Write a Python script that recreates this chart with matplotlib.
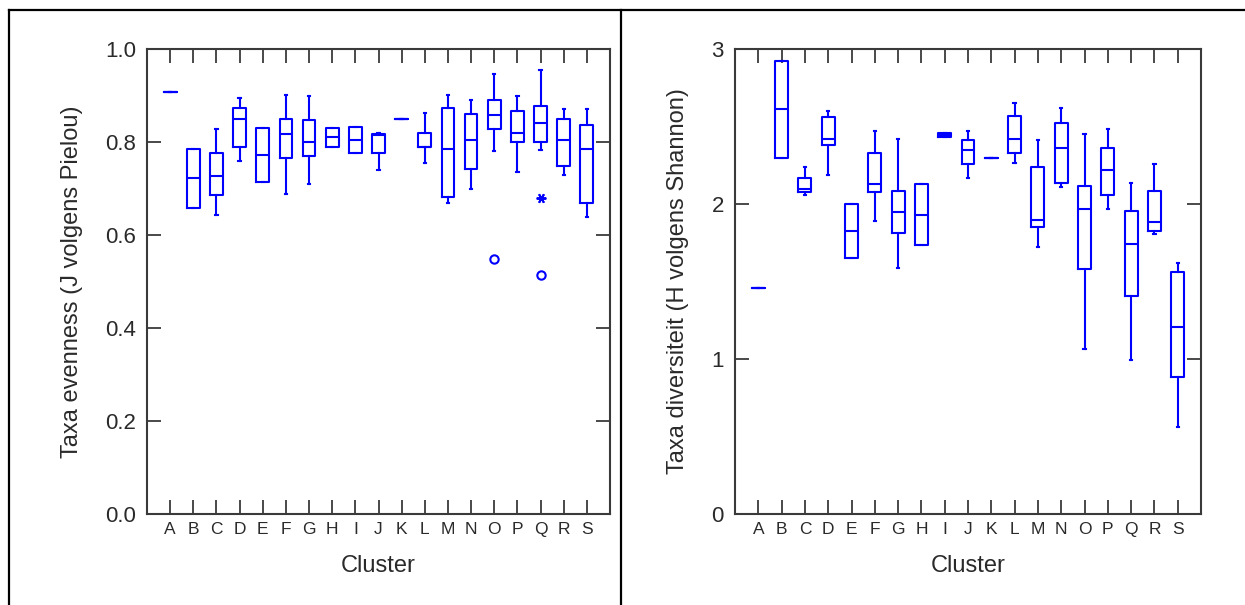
import matplotlib.pyplot as plt
from matplotlib.lines import Line2D

plt.rcParams['font.family'] = ['Liberation Sans', 'DejaVu Sans']

clusters = list('ABCDEFGHIJKLMNOPQRS')

# Pielou evenness per cluster: whisker low, Q1, median, Q3, whisker high
j_whislo = [0.908, 0.659, 0.642, 0.759, 0.715, 0.689, 0.709, 0.790, 0.776, 0.740,
            0.850, 0.755, 0.668, 0.699, 0.780, 0.735, 0.783, 0.729, 0.639]
j_q1 = [0.908, 0.659, 0.685, 0.789, 0.715, 0.766, 0.769, 0.790, 0.776, 0.776,
        0.850, 0.790, 0.682, 0.743, 0.827, 0.799, 0.800, 0.749, 0.668]
j_med = [0.908, 0.723, 0.726, 0.850, 0.773, 0.817, 0.799, 0.810, 0.804, 0.815,
         0.850, 0.790, 0.786, 0.804, 0.857, 0.820, 0.841, 0.804, 0.784]
j_q3 = [0.908, 0.786, 0.776, 0.874, 0.830, 0.850, 0.847, 0.830, 0.833, 0.817,
        0.850, 0.820, 0.874, 0.860, 0.890, 0.867, 0.877, 0.850, 0.837]
j_whishi = [0.908, 0.786, 0.827, 0.895, 0.830, 0.902, 0.898, 0.830, 0.833, 0.820,
            0.850, 0.862, 0.901, 0.890, 0.946, 0.898, 0.955, 0.871, 0.871]
j_outliers = {'O': [0.548], 'Q': [0.513]}
j_extremes = {'Q': [0.680]}

# Shannon diversity per cluster
h_whislo = [1.46, 2.30, 2.056, 2.187, 1.652, 1.892, 1.59, 1.733, 2.434, 2.17,
            2.30, 2.267, 1.723, 2.108, 1.067, 1.966, 0.994, 1.804, 0.561]
h_q1 = [1.46, 2.30, 2.075, 2.378, 1.652, 2.075, 1.815, 1.733, 2.434, 2.258,
        2.30, 2.327, 1.854, 2.138, 1.581, 2.056, 1.409, 1.824, 0.886]
h_med = [1.46, 2.61, 2.097, 2.419, 1.826, 2.127, 1.946, 1.927, 2.445, 2.35,
         2.30, 2.419, 1.895, 2.359, 1.966, 2.217, 1.744, 1.884, 1.209]
h_q3 = [1.46, 2.925, 2.17, 2.561, 1.998, 2.329, 2.086, 2.127, 2.46, 2.41,
        2.30, 2.57, 2.239, 2.523, 2.116, 2.359, 1.955, 2.086, 1.561]
h_whishi = [1.46, 2.925, 2.239, 2.60, 1.998, 2.473, 2.42, 2.127, 2.46, 2.473,
            2.30, 2.654, 2.41, 2.621, 2.45, 2.482, 2.138, 2.258, 1.621]

BLUE = '#0000ff'
FRAME = '#3a3a3a'
TEXT = '#2a2a2a'


def stats(lo, q1, med, q3, hi, outliers):
    out = []
    for i, c in enumerate(clusters):
        out.append(dict(label=c, whislo=lo[i], q1=q1[i], med=med[i], q3=q3[i],
                        whishi=hi[i], fliers=outliers.get(c, [])))
    return out


def draw(ax, st, ylim, yticks, yticklabels, ylabel):
    pos = list(range(1, len(clusters) + 1))
    line = dict(color=BLUE, linewidth=1.5)
    ax.bxp(st, positions=pos, widths=0.55, capwidths=0.1,
           boxprops=line, medianprops=line, whiskerprops=line, capprops=line,
           flierprops=dict(marker='o', markersize=6, markerfacecolor='none',
                           markeredgecolor=BLUE, markeredgewidth=1.5),
           manage_ticks=False)
    ax.set_xlim(0, 20)
    ax.set_ylim(*ylim)
    ax.set_xticks(pos)
    ax.set_xticklabels(clusters, fontsize=12.5, color=TEXT)
    ax.set_yticks(yticks)
    ax.set_yticklabels(yticklabels, fontsize=16, color=TEXT)
    ax.tick_params(axis='both', direction='in', length=10, width=1.3,
                   color=FRAME, top=True, right=True)
    ax.tick_params(axis='x', pad=6)
    ax.tick_params(axis='y', pad=8)
    for s in ax.spines.values():
        s.set_color(FRAME)
        s.set_linewidth(1.5)
    ax.set_xlabel('Cluster', fontsize=17, color=TEXT, labelpad=13)
    ax.set_ylabel(ylabel, fontsize=17, color=TEXT, labelpad=16)


fig = plt.figure(figsize=(12.45, 6.05), dpi=100)
W, H = 1245, 605
ax1 = fig.add_axes([147 / W, 91 / H, 463 / W, 465 / H])
ax2 = fig.add_axes([735 / W, 91 / H, 466 / W, 465 / H])

draw(ax1, stats(j_whislo, j_q1, j_med, j_q3, j_whishi, j_outliers), (0, 1),
     [0, 0.2, 0.4, 0.6, 0.8, 1.0], ['0.0', '0.2', '0.4', '0.6', '0.8', '1.0'],
     'Taxa evenness (J volgens Pielou)')
for c, vals in j_extremes.items():
    x = clusters.index(c) + 1
    ax1.plot([x] * len(vals), vals, linestyle='none', marker=(6, 2, 90),
             markersize=7, color=BLUE, markeredgewidth=1.4)

draw(ax2, stats(h_whislo, h_q1, h_med, h_q3, h_whishi, {}), (0, 3),
     [0, 1, 2, 3], ['0', '1', '2', '3'], 'Taxa diversiteit (H volgens Shannon)')

# table-style frame around the two panels
for xs, ys in [((9 / W, 1), (1 - 10 / H, 1 - 10 / H)),
               ((9 / W, 9 / W), (0, 1 - 10 / H)),
               ((621 / W, 621 / W), (0, 1 - 10 / H))]:
    fig.add_artist(Line2D(xs, ys, color='black', linewidth=1.6))

fig.savefig('out.png', dpi=100)
